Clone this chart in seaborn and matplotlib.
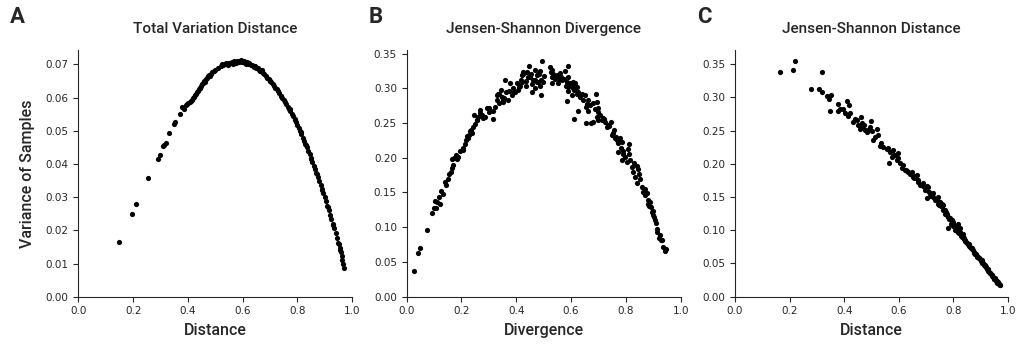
import matplotlib
matplotlib.use("Agg")
import matplotlib.pyplot as plt
import matplotlib.ticker as mticker
import seaborn as sns

# ---------------------------------------------------------------- data
# A: total variation distance vs variance of samples
tvd_x = [0.148, 0.194, 0.211, 0.255, 0.291, 0.297, 0.308, 0.313, 0.320, 0.330, 0.349, 0.353,
         0.371, 0.380, 0.386, 0.393, 0.398, 0.402, 0.406, 0.410, 0.414, 0.418, 0.422, 0.426,
         0.430, 0.433, 0.437, 0.440, 0.443, 0.446, 0.449, 0.452, 0.455, 0.458, 0.461, 0.465,
         0.469, 0.473, 0.477, 0.481, 0.485, 0.490, 0.495, 0.500, 0.510, 0.520, 0.525, 0.530,
         0.535, 0.540, 0.545, 0.550, 0.555, 0.560, 0.565, 0.570, 0.575, 0.580, 0.585, 0.590,
         0.595, 0.600, 0.605, 0.610, 0.615, 0.620, 0.625, 0.630, 0.635, 0.640, 0.645, 0.650,
         0.655, 0.660, 0.665, 0.670, 0.675, 0.680, 0.685, 0.690, 0.695, 0.700, 0.705, 0.710,
         0.715, 0.720, 0.725, 0.730, 0.735, 0.740, 0.745, 0.750, 0.755, 0.760, 0.765, 0.770,
         0.775, 0.780, 0.785, 0.790, 0.795, 0.800, 0.805, 0.810, 0.815, 0.820, 0.825, 0.830,
         0.835, 0.840, 0.845, 0.850, 0.855, 0.860, 0.865, 0.870, 0.875, 0.880, 0.885, 0.890,
         0.895, 0.900, 0.905, 0.910, 0.915, 0.920, 0.925, 0.930, 0.935, 0.940, 0.945, 0.950,
         0.955, 0.958, 0.962, 0.965, 0.968, 0.971,
         0.562, 0.572, 0.588, 0.598, 0.612, 0.642, 0.662, 0.702, 0.742, 0.772, 0.792, 0.812,
         0.832, 0.852, 0.872, 0.892, 0.912, 0.932, 0.952, 0.960]
tvd_y = [0.0166, 0.0250, 0.0280, 0.0359, 0.0415, 0.0427, 0.0453, 0.0457, 0.0462, 0.0493, 0.0519, 0.0525,
         0.0549, 0.0571, 0.0566, 0.0578, 0.0582, 0.0585, 0.0588, 0.0591, 0.0594, 0.0598, 0.0602, 0.0607,
         0.0612, 0.0616, 0.0621, 0.0626, 0.0630, 0.0628, 0.0634, 0.0640, 0.0645, 0.0650, 0.0648, 0.0655,
         0.0660, 0.0664, 0.0668, 0.0666, 0.0671, 0.0676, 0.0679, 0.0682, 0.0688, 0.0695, 0.0700, 0.0698,
         0.0701, 0.0703, 0.0699, 0.0705, 0.0703, 0.0707, 0.0700, 0.0709, 0.0704, 0.0711, 0.0706, 0.0709,
         0.0712, 0.0707, 0.0709, 0.0704, 0.0707, 0.0702, 0.0705, 0.0699, 0.0697, 0.0694, 0.0696, 0.0690,
         0.0688, 0.0684, 0.0680, 0.0682, 0.0675, 0.0670, 0.0665, 0.0660, 0.0656, 0.0651, 0.0647, 0.0641,
         0.0636, 0.0630, 0.0626, 0.0620, 0.0614, 0.0606, 0.0600, 0.0594, 0.0588, 0.0580, 0.0573, 0.0566,
         0.0559, 0.0551, 0.0543, 0.0535, 0.0526, 0.0517, 0.0508, 0.0498, 0.0489, 0.0479, 0.0470, 0.0461,
         0.0451, 0.0440, 0.0429, 0.0418, 0.0406, 0.0395, 0.0384, 0.0372, 0.0361, 0.0349, 0.0337, 0.0325,
         0.0312, 0.0299, 0.0287, 0.0274, 0.0261, 0.0247, 0.0233, 0.0220, 0.0206, 0.0191, 0.0177, 0.0162,
         0.0148, 0.0140, 0.0122, 0.0112, 0.0100, 0.0087,
         0.0703, 0.0705, 0.0708, 0.0706, 0.0701, 0.0691, 0.0681, 0.0649, 0.0604, 0.0565, 0.0531, 0.0495,
         0.0458, 0.0416, 0.0371, 0.0322, 0.0270, 0.0217, 0.0160, 0.0135]

# B: Jensen-Shannon divergence vs variance of samples
jsdiv_x = [0.027, 0.043, 0.049, 0.075, 0.094, 0.101, 0.103, 0.112, 0.118, 0.124, 0.122, 0.140,
           0.142, 0.154, 0.161, 0.166, 0.164, 0.174, 0.179, 0.188, 0.195, 0.207, 0.213, 0.216,
           0.223, 0.227, 0.235, 0.240, 0.243, 0.249, 0.246, 0.255, 0.261, 0.268, 0.268, 0.280,
           0.286, 0.302, 0.314, 0.316, 0.322, 0.328, 0.334, 0.344, 0.347, 0.352, 0.359, 0.361,
           0.368, 0.377, 0.383, 0.389, 0.395, 0.401, 0.410, 0.417, 0.420, 0.426, 0.434, 0.442,
           0.447, 0.454, 0.458, 0.462, 0.468, 0.474, 0.480, 0.486, 0.489, 0.493,
           0.450, 0.468, 0.438, 0.426, 0.480, 0.474, 0.486, 0.420, 0.413, 0.338, 0.352, 0.328,
           0.483, 0.490, 0.499, 0.523, 0.527, 0.529, 0.535, 0.529, 0.541, 0.547, 0.553, 0.556,
           0.563, 0.568, 0.575, 0.578, 0.588, 0.584, 0.580, 0.590, 0.590, 0.596, 0.586, 0.602,
           0.608, 0.612, 0.614, 0.620, 0.620, 0.626, 0.611, 0.624, 0.632, 0.639, 0.645, 0.651,
           0.653, 0.654, 0.657, 0.663, 0.663, 0.669, 0.673, 0.681, 0.690, 0.693, 0.697, 0.699,
           0.705, 0.712, 0.718, 0.724, 0.730, 0.736, 0.746, 0.758, 0.750, 0.760, 0.766, 0.772,
           0.778, 0.785, 0.770, 0.790, 0.785, 0.797, 0.811, 0.803, 0.815, 0.821, 0.839, 0.827,
           0.833, 0.839, 0.851, 0.858, 0.863, 0.870, 0.876, 0.882, 0.888, 0.892, 0.894, 0.900,
           0.906, 0.904, 0.912, 0.915, 0.921, 0.928, 0.937, 0.943, 0.945,
           0.925, 0.931, 0.910, 0.898, 0.886, 0.880, 0.868, 0.848, 0.845, 0.831, 0.809, 0.813,
           0.788, 0.781, 0.776, 0.764, 0.754, 0.740, 0.720, 0.693, 0.686, 0.699, 0.681, 0.608,
           0.590, 0.604, 0.560, 0.545, 0.532, 0.500, 0.470, 0.456, 0.436, 0.405, 0.392, 0.372,
           0.356, 0.336, 0.300, 0.292, 0.275, 0.258, 0.232, 0.220, 0.205, 0.184, 0.170, 0.150,
           0.131, 0.108]
jsdiv_y = [0.0374, 0.0624, 0.0700, 0.0959, 0.120, 0.127, 0.138, 0.136, 0.144, 0.152, 0.134, 0.165,
           0.161, 0.177, 0.180, 0.185, 0.198, 0.200, 0.204, 0.201, 0.210, 0.211, 0.220, 0.225,
           0.228, 0.233, 0.240, 0.235, 0.244, 0.249, 0.261, 0.254, 0.259, 0.264, 0.269, 0.257,
           0.258, 0.271, 0.268, 0.256, 0.273, 0.290, 0.292, 0.297, 0.288, 0.280, 0.312, 0.295,
           0.283, 0.307, 0.290, 0.300, 0.295, 0.307, 0.302, 0.312, 0.319, 0.324, 0.304, 0.316,
           0.332, 0.321, 0.295, 0.312, 0.326, 0.319, 0.309, 0.325, 0.290, 0.340,
           0.316, 0.312, 0.324, 0.321, 0.321, 0.309, 0.304, 0.309, 0.304, 0.292, 0.283, 0.283,
           0.321, 0.312, 0.309, 0.330, 0.324, 0.316, 0.321, 0.307, 0.314, 0.319, 0.307, 0.314,
           0.316, 0.312, 0.314, 0.325, 0.332, 0.309, 0.304, 0.316, 0.302, 0.308, 0.282, 0.304,
           0.309, 0.297, 0.307, 0.302, 0.292, 0.295, 0.256, 0.268, 0.288, 0.292, 0.283, 0.290,
           0.273, 0.250, 0.278, 0.268, 0.283, 0.276, 0.250, 0.252, 0.292, 0.280, 0.266, 0.254,
           0.261, 0.254, 0.257, 0.252, 0.244, 0.247, 0.252, 0.240, 0.233, 0.228, 0.225, 0.221,
           0.228, 0.223, 0.208, 0.206, 0.197, 0.201, 0.220, 0.194, 0.197, 0.187, 0.188, 0.180,
           0.173, 0.163, 0.170, 0.158, 0.151, 0.146, 0.149, 0.134, 0.137, 0.129, 0.122, 0.117,
           0.110, 0.115, 0.098, 0.093, 0.084, 0.082, 0.072, 0.066, 0.068,
           0.0887, 0.0815, 0.106, 0.124, 0.131, 0.139, 0.155, 0.176, 0.184, 0.193, 0.213, 0.206,
           0.210, 0.214, 0.225, 0.230, 0.236, 0.246, 0.256, 0.258, 0.270, 0.272, 0.279, 0.300,
           0.296, 0.290, 0.322, 0.316, 0.326, 0.318, 0.300, 0.306, 0.310, 0.298, 0.294, 0.296,
           0.286, 0.279, 0.266, 0.272, 0.262, 0.254, 0.238, 0.232, 0.214, 0.198, 0.190, 0.170,
           0.148, 0.128]

# C: Jensen-Shannon distance vs variance of samples
jsdist_x = [0.165, 0.211, 0.221, 0.319, 0.277, 0.309, 0.320, 0.336, 0.346, 0.352, 0.348, 0.376,
            0.378, 0.385, 0.397, 0.403, 0.409, 0.413, 0.418, 0.421, 0.433, 0.440, 0.446, 0.452,
            0.458, 0.462, 0.464, 0.466, 0.473, 0.482, 0.488, 0.498, 0.495, 0.501, 0.504,
            0.476, 0.519, 0.513, 0.531, 0.556, 0.543, 0.568, 0.580, 0.565, 0.574, 0.586, 0.592,
            0.598, 0.604, 0.611, 0.623, 0.635, 0.647, 0.653, 0.666, 0.672, 0.678, 0.690, 0.696,
            0.702, 0.708, 0.720, 0.727, 0.739, 0.751, 0.763, 0.769, 0.775, 0.781, 0.781, 0.794,
            0.800, 0.806, 0.818, 0.824, 0.830, 0.842, 0.855, 0.867, 0.879, 0.891, 0.903, 0.916,
            0.928, 0.940, 0.952, 0.964, 0.972,
            0.615, 0.630, 0.641, 0.660, 0.684, 0.700, 0.714, 0.733, 0.745, 0.757, 0.766, 0.772,
            0.778, 0.786, 0.790, 0.797, 0.803, 0.810, 0.813, 0.821, 0.827, 0.834, 0.838, 0.846,
            0.850, 0.858, 0.862, 0.870, 0.874, 0.882, 0.886, 0.894, 0.898, 0.906, 0.910, 0.913,
            0.919, 0.922, 0.925, 0.931, 0.934, 0.937, 0.943, 0.946, 0.949, 0.955, 0.958, 0.961,
            0.967, 0.970, 0.818, 0.826, 0.836, 0.760, 0.742, 0.705, 0.662, 0.626,
            0.640, 0.656, 0.672, 0.688, 0.712, 0.724, 0.736, 0.748, 0.754, 0.762, 0.770, 0.784,
            0.792, 0.800, 0.808, 0.816, 0.822, 0.830, 0.840, 0.844, 0.852, 0.856, 0.864, 0.868,
            0.876, 0.880, 0.888, 0.892, 0.900, 0.904, 0.915, 0.920, 0.928, 0.935, 0.941, 0.950,
            0.953, 0.960, 0.965, 0.968, 0.582, 0.596, 0.560, 0.536, 0.524]
jsdist_y = [0.3375, 0.341, 0.3545, 0.3375, 0.312, 0.313, 0.308, 0.302, 0.297, 0.304, 0.280, 0.290,
            0.280, 0.283, 0.282, 0.277, 0.295, 0.272, 0.289, 0.276, 0.263, 0.267, 0.266, 0.258,
            0.253, 0.271, 0.261, 0.256, 0.259, 0.248, 0.251, 0.264, 0.255, 0.250, 0.236,
            0.251, 0.253, 0.241, 0.227, 0.223, 0.226, 0.218, 0.221, 0.2007, 0.211, 0.213, 0.206,
            0.216, 0.2007, 0.193, 0.191, 0.188, 0.188, 0.1805, 0.183, 0.1755, 0.168, 0.1706, 0.1605,
            0.148, 0.1655, 0.153, 0.1565, 0.1455, 0.143, 0.138, 0.130, 0.125, 0.120, 0.104, 0.115,
            0.110, 0.100, 0.098, 0.103, 0.093, 0.085, 0.080, 0.073, 0.065, 0.060, 0.055, 0.048,
            0.040, 0.033, 0.028, 0.0226, 0.0180,
            0.198, 0.189, 0.186, 0.181, 0.168, 0.161, 0.152, 0.146, 0.140, 0.136, 0.131, 0.127,
            0.123, 0.118, 0.115, 0.112, 0.106, 0.103, 0.099, 0.096, 0.092, 0.090, 0.088, 0.083,
            0.081, 0.077, 0.075, 0.070, 0.068, 0.064, 0.062, 0.058, 0.056, 0.051, 0.050, 0.047,
            0.044, 0.042, 0.041, 0.037, 0.036, 0.034, 0.031, 0.029, 0.027, 0.024, 0.023, 0.021,
            0.019, 0.018, 0.109, 0.097, 0.094, 0.139, 0.150, 0.166, 0.178, 0.190,
            0.185, 0.179, 0.172, 0.166, 0.158, 0.150, 0.147, 0.138, 0.137, 0.131, 0.125, 0.117,
            0.110, 0.107, 0.102, 0.098, 0.096, 0.090, 0.087, 0.084, 0.080, 0.079, 0.073, 0.072,
            0.066, 0.065, 0.060, 0.059, 0.054, 0.052, 0.046, 0.044, 0.039, 0.035, 0.032, 0.027,
            0.026, 0.022, 0.020, 0.019, 0.213, 0.209, 0.224, 0.231, 0.244]

titles = ["Total Variation Distance", "Jensen-Shannon Divergence", "Jensen-Shannon Distance"]
xlabels = ["Distance", "Divergence", "Distance"]
letters = ["A", "B", "C"]

# ---------------------------------------------------------------- figure
sns.set_style("ticks")
plt.rcParams['font.family'] = ['DejaVu Sans']

fig = plt.figure(figsize=(10.19, 3.45), dpi=100)
lefts = [0.0770, 0.3991, 0.7213]
widths = [0.2684, 0.2689, 0.2679]
letter_x = [10 / 1019, 369 / 1019, 697 / 1019]
panels = [(tvd_x, tvd_y), (jsdiv_x, jsdiv_y), (jsdist_x, jsdist_y)]

label_font = dict(family='Roboto', weight='medium')

for i, (xs, ys) in enumerate(panels):
    ax = fig.add_axes([lefts[i], 0.140, widths[i], 0.7151])
    sns.scatterplot(x=xs, y=ys, ax=ax, color='black', s=14, linewidth=0)
    ax.set_xlim(0, 1)
    ax.set_ylim(0, )
    ax.set_xticks([0.0, 0.2, 0.4, 0.6, 0.8, 1.0])
    ax.yaxis.set_major_formatter(mticker.FormatStrFormatter('%.2f'))
    ax.tick_params(labelsize=7.5, length=3.5, width=0.8)
    ax.set_title(titles[i], fontsize=11, pad=12, **label_font)
    ax.set_xlabel(xlabels[i], fontsize=11.5, labelpad=5, **label_font)
    if i == 0:
        ax.set_ylabel("Variance of Samples", fontsize=11.5, labelpad=8, **label_font)
    sns.despine(ax=ax)
    fig.text(letter_x[i], 1 - 6 / 345, letters[i], fontsize=16, va='top', ha='left',
             family='Roboto', weight='bold')

fig.savefig("out.png", dpi=100)
